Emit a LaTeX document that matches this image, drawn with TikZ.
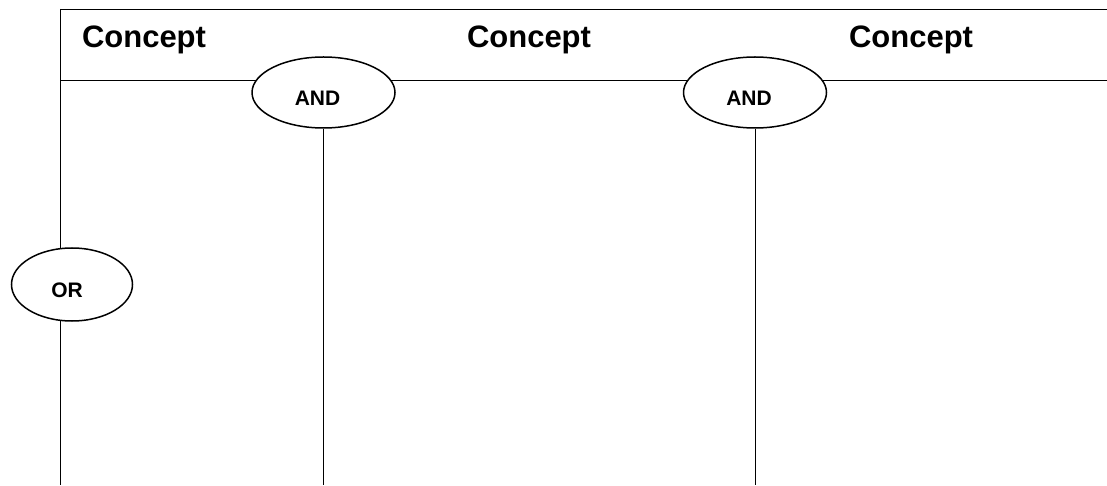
\documentclass[tikz,border=0pt]{standalone}
\usepackage{fontspec}
\setmainfont{Liberation Sans}
\usetikzlibrary{shapes.geometric, backgrounds, positioning}
\tikzset{
	conceptlabel/.style={font=\fontsize{31}{31}\selectfont\bfseries, anchor=base, inner sep=0pt}
}
\tikzset{
	gatebox/.style={draw, ellipse, fill=white, minimum width=143pt, minimum height=71pt, inner sep=0pt},
	gatetext/.style={font=\fontsize{21}{21}\selectfont\bfseries, inner sep=0pt}
}
\begin{document}
\begin{tikzpicture}[x=1pt,y=1pt,line width=1.5pt]
      \useasboundingbox (0,0) rectangle (1107,485);
      \coordinate (topL) at (60,476);
      \coordinate (topR) at (1107,476);
      \coordinate (midL) at (60,405);
      \coordinate (midR) at (1107,405);
      \coordinate (botL) at (60,0);
      \node[conceptlabel] (concA) at (144,437) {Concept};
      \node[conceptlabel] (concB) at (529,437) {Concept};
      \node[conceptlabel] (concC) at (911,437) {Concept};
      \node[gatebox, label={[gatetext,xshift=-6pt,yshift=-5.5pt]center:AND}] (and1) at (323.5,392.5) {};
      \node[gatebox, label={[gatetext,xshift=-6pt,yshift=-5.5pt]center:AND}] (and2) at (755,392.5) {};
      \node[gatebox, minimum width=121pt, minimum height=73pt,
            label={[gatetext,xshift=-5pt,yshift=-5.5pt]center:OR}] (or) at (72,200.5) {};
      % frame lines go behind the ellipses
      \begin{scope}[on background layer]
        \draw (topL) -- (topR);
        \draw (midL) -- (midR);
        \draw (topL) -- (botL);
        \draw (and1.south) -- (and1.south |- botL);
        \draw (and2.south) -- (and2.south |- botL);
      \end{scope}
\end{tikzpicture}
\end{document}
